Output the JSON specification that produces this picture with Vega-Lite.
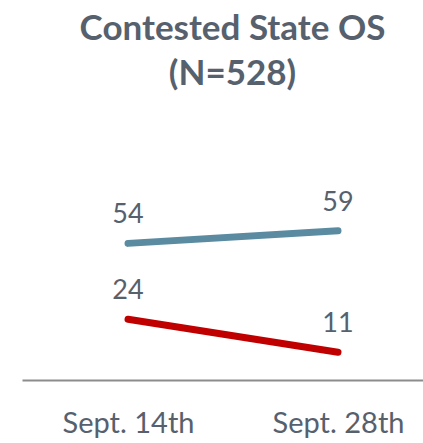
{
  "$schema": "https://vega.github.io/schema/vega-lite/v6.json",
  "width": 401,
  "height": 253,
  "autosize": {"type": "none"},
  "padding": {"left": 22, "top": 127, "right": 0, "bottom": 63},
  "title": {
    "text": ["Contested State OS", "(N=528)"],
    "font": "Lato",
    "fontSize": 35,
    "fontWeight": "bold",
    "color": "#56616d",
    "anchor": "middle",
    "dx": 10,
    "offset": 35,
    "lineHeight": 45
  },
  "data": {
    "values": [
      {"date": "Sept. 14th", "series": "A", "value": 54},
      {"date": "Sept. 28th", "series": "A", "value": 59},
      {"date": "Sept. 14th", "series": "B", "value": 24},
      {"date": "Sept. 28th", "series": "B", "value": 11}
    ]
  },
  "encoding": {
    "x": {
      "field": "date",
      "type": "ordinal",
      "sort": null,
      "scale": {"type": "point", "padding": 0.4548, "align": 0.555},
      "axis": {
        "title": null,
        "domainColor": "#8c8c8c",
        "domainWidth": 2,
        "ticks": false,
        "labelAngle": 0,
        "labelFont": "Lato",
        "labelFontSize": 29,
        "labelColor": "#56616d",
        "labelPadding": 29,
        "grid": false
      }
    },
    "y": {
      "field": "value",
      "type": "quantitative",
      "scale": {"domain": [0, 100], "nice": false, "zero": true},
      "axis": null
    },
    "color": {
      "field": "series",
      "type": "nominal",
      "scale": {"domain": ["A", "B"], "range": ["#5a8ba1", "#c00000"]},
      "legend": null
    }
  },
  "layer": [
    {"mark": {"type": "line", "strokeWidth": 7, "strokeCap": "round", "clip": false}},
    {
      "mark": {"type": "text", "dy": -20, "baseline": "alphabetic", "font": "Lato", "fontSize": 27, "color": "#56616d"},
      "encoding": {
        "text": {"field": "value", "type": "quantitative"},
        "color": {"value": "#56616d"}
      }
    }
  ],
  "config": {"view": {"stroke": null}}
}
